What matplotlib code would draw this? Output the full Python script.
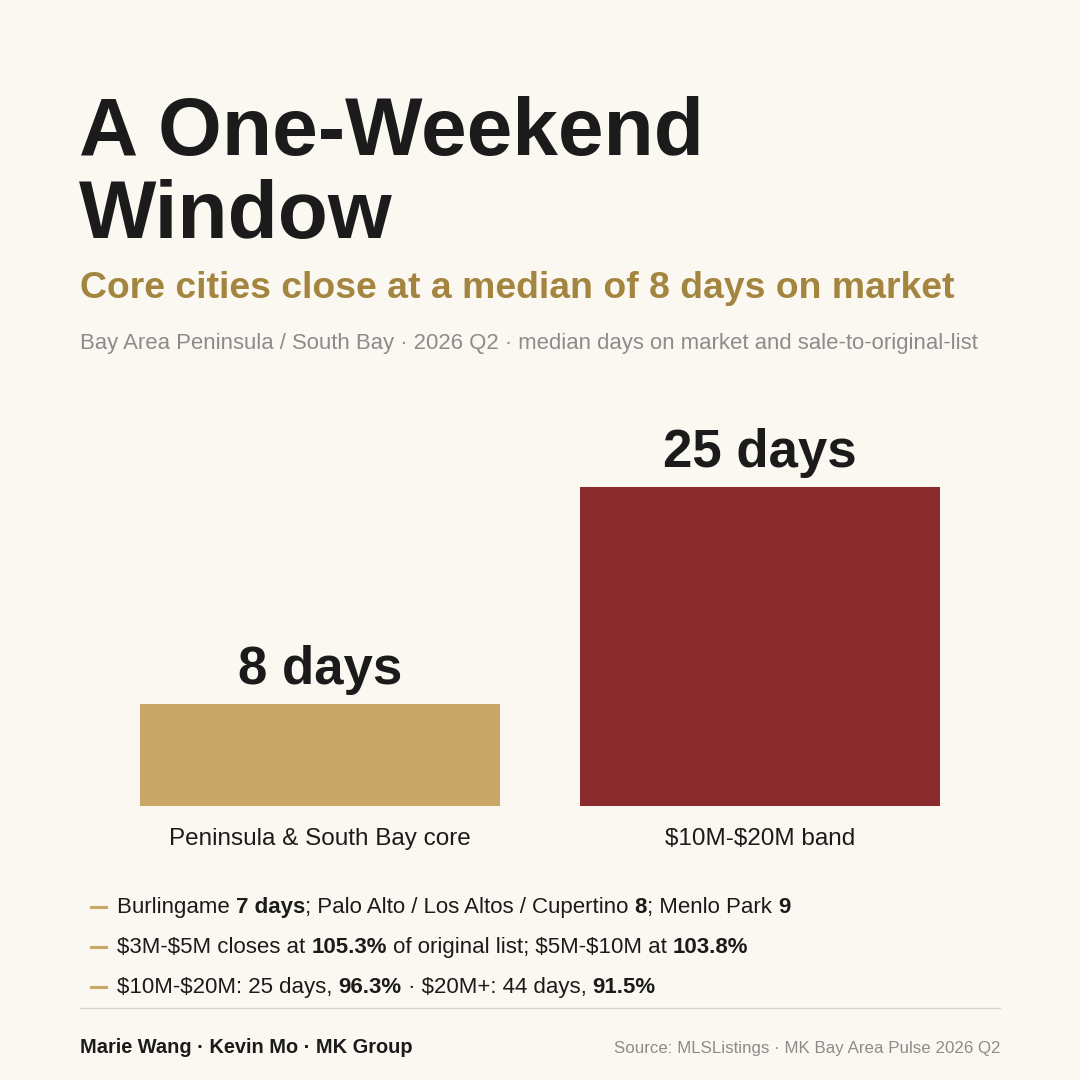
import matplotlib
matplotlib.use("Agg")
import matplotlib.pyplot as plt

# ---- data ----
categories = ["Peninsula & South Bay core", "$10M-$20M band"]
days_on_market = [8, 25]
value_labels = ["8 days", "25 days"]

notes = [
    [("Burlingame ", False), ("7 days", True), ("; Palo Alto / Los Altos / Cupertino ", False),
     ("8", True), ("; Menlo Park ", False), ("9", True)],
    [("$3M-$5M closes at ", False), ("105.3%", True), (" of original list; $5M-$10M at ", False),
     ("103.8%", True)],
    [("$10M-$20M: 25 days, ", False), ("96.3%", True), (" \u00b7 $20M+: 44 days, ", False),
     ("91.5%", True)],
]

title_lines = ["A One-Weekend", "Window"]
subtitle = "Core cities close at a median of 8 days on market"
caption = "Bay Area Peninsula / South Bay \u00b7 2026 Q2 \u00b7 median days on market and sale-to-original-list"
credit = "Marie Wang \u00b7 Kevin Mo \u00b7 MK Group"
source = "Source: MLSListings \u00b7 MK Bay Area Pulse 2026 Q2"

# ---- style ----
BG = "#FBF8F1"
INK = "#1B1B1B"
GOLD = "#C9A766"
RED = "#8A2A2C"
SUB = "#A3853F"
GREY = "#8C8C8C"
bar_colors = [GOLD, RED]

plt.rcParams["font.family"] = ["Liberation Sans", "DejaVu Sans"]
plt.rcParams["text.parse_math"] = False  # dollar signs are literal

W = H = 1080
fig = plt.figure(figsize=(10.8, 10.8), dpi=100, facecolor=BG)


def fx(x):
    return x / W


def fy(y):
    return 1 - y / H


# title block
fig.text(fx(79), fy(155), title_lines[0], fontsize=59, fontweight="bold", color=INK, va="baseline")
fig.text(fx(79), fy(238), title_lines[1], fontsize=59, fontweight="bold", color=INK, va="baseline")
fig.text(fx(80), fy(298), subtitle, fontsize=26.9, fontweight="bold", color=SUB, va="baseline")
fig.text(fx(80), fy(349), caption, fontsize=15.9, color=GREY, va="baseline")

# ---- bars ----
px_per_day = (806 - 487) / 25.0
ax_top, ax_bot = 400, 806
ax = fig.add_axes([fx(140), fy(ax_bot), fx(940) - fx(140), (ax_bot - ax_top) / H])
ax.set_facecolor("none")
width = 360 / 440
xs = list(range(len(categories)))
bars = ax.bar(xs, days_on_market, width=width, color=bar_colors)
ax.set_xlim(-width / 2, 1 + width / 2)
ax.set_ylim(0, (ax_bot - ax_top) / px_per_day)
for s in ax.spines.values():
    s.set_visible(False)
ax.set_yticks([])
ax.set_xticks(xs)
ax.set_xticklabels(categories, fontsize=17.5, color=INK)
ax.tick_params(axis="x", length=0, pad=16)
for b, lab in zip(bars, value_labels):
    ax.annotate(lab, xy=(b.get_x() + b.get_width() / 2, b.get_height()),
                xytext=(0, 14.5), textcoords="offset points", ha="center", va="baseline",
                fontsize=38, fontweight="bold", color=INK)

# ---- notes: mixed regular / bold runs chained left to right ----
note_y = [913, 953, 993]
for y, segs in zip(note_y, notes):
    fig.add_artist(plt.Line2D([fx(91), fx(106)], [fy(y - 6), fy(y - 6)], color=GOLD, lw=2.2))
    prev = None
    for txt, bold in segs:
        kw = dict(fontsize=16, color=INK, fontweight="bold" if bold else "normal")
        if prev is None:
            prev = fig.text(fx(117), fy(y), txt, va="baseline", **kw)
        else:
            prev = plt.annotate(txt, xy=(1, 0), xycoords=prev, va="bottom", ha="left",
                                annotation_clip=False, **kw)

# ---- footer ----
fig.add_artist(plt.Line2D([fx(80), fx(1000)], [fy(1008), fy(1008)], color="#D9D6D0", lw=1))
fig.text(fx(80), fy(1053), credit, fontsize=14.4, fontweight="bold", color=INK, va="baseline")
fig.text(fx(1000), fy(1053), source, fontsize=12.2, color=GREY, va="baseline", ha="right")

fig.savefig("out.png", dpi=100, facecolor=BG)
